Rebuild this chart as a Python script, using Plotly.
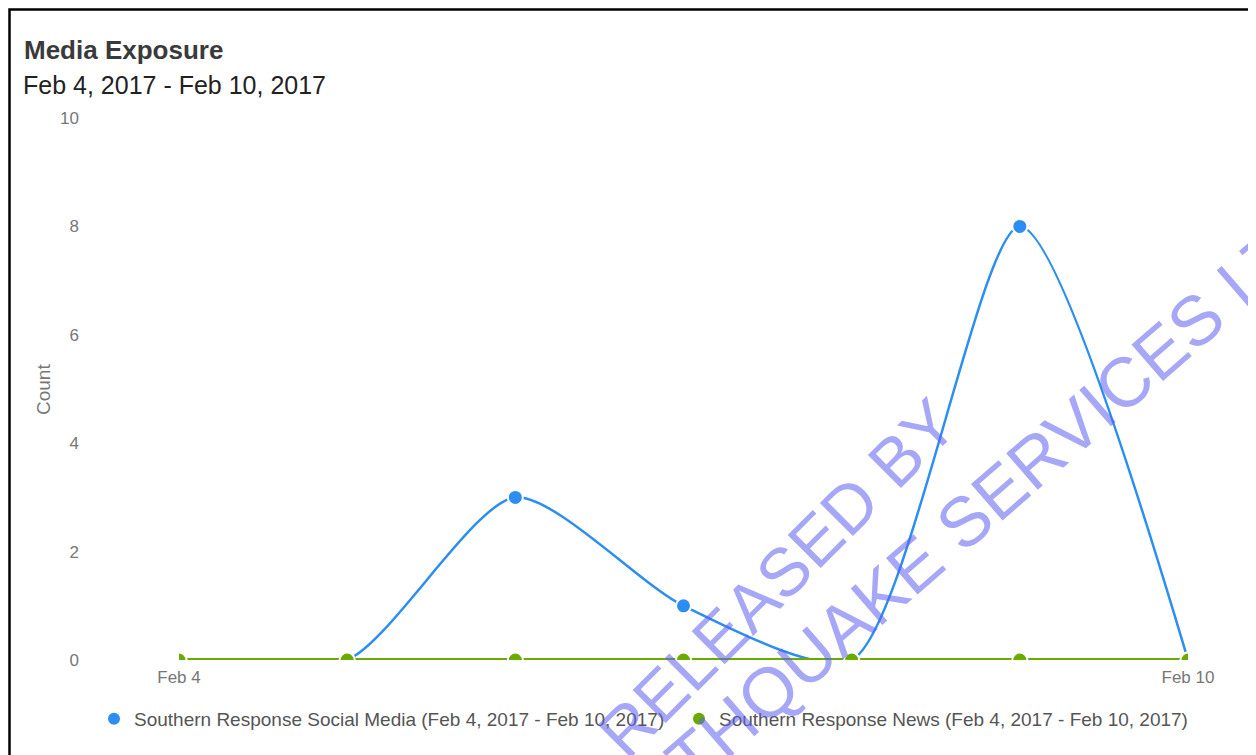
import plotly.graph_objects as go

# data
dates = ["2017-02-04", "2017-02-05", "2017-02-06", "2017-02-07",
         "2017-02-08", "2017-02-09", "2017-02-10"]
social_media = [0, 0, 3, 1, 0, 8, 0]
news = [0, 0, 0, 0, 0, 0, 0]
series_names = ["Southern Response Social Media (Feb 4, 2017 - Feb 10, 2017)",
                "Southern Response News (Feb 4, 2017 - Feb 10, 2017)"]
y_ticks = [0, 2, 4, 6, 8, 10]
x_ticks = ["2017-02-04", "2017-02-10"]
x_tick_labels = ["Feb 4", "Feb 10"]

W, H = 1256, 755
OFF = 8  # page body margin
L, R, T, B = 179, 1188, 118, 660  # plot area in screenshot pixels


def px(x):
    return (x - L) / (R - L)


def py(y):
    return (B - y) / (B - T)


blue = "#2b8ef0"
green = "#6aab00"
font = "Liberation Sans, Arial, sans-serif"

fig = go.Figure()

fig.add_trace(go.Scatter(
    x=dates, y=social_media, mode="lines+markers", name=series_names[0],
    showlegend=False,
    line=dict(color=blue, width=2.5, shape="spline", smoothing=0.7),
    marker=dict(size=15, color=blue, line=dict(color="white", width=2)),
))
fig.add_trace(go.Scatter(
    x=dates, y=news, mode="lines+markers", name=series_names[1],
    showlegend=False,
    line=dict(color=green, width=4, shape="spline"),
    marker=dict(size=15, color=green, line=dict(color="white", width=2)),
))
# legend entries show the marker only
for name, col in zip(series_names, [blue, green]):
    fig.add_trace(go.Scatter(x=[None], y=[None], mode="markers", name=name,
                             marker=dict(size=12, color=col)))

# title / subtitle
fig.add_annotation(text="<b>Media Exposure</b>", xref="paper", yref="paper",
                   x=px(22), y=py(50), xanchor="left", yanchor="middle",
                   showarrow=False, font=dict(size=26, color="#3a3a3a", family=font))
fig.add_annotation(text="Feb 4, 2017 - Feb 10, 2017", xref="paper", yref="paper",
                   x=px(21), y=py(85), xanchor="left", yanchor="middle",
                   showarrow=False, font=dict(size=25, color="#222222", family=font))
fig.add_annotation(text="Count", xref="paper", yref="paper", textangle=-90,
                   x=px(43), y=py(390), xanchor="center", yanchor="middle",
                   showarrow=False, font=dict(size=19, color="#777777", family=font))

# watermark
wm = dict(xref="paper", yref="paper", showarrow=False, xanchor="center",
          yanchor="middle")
fig.add_annotation(text="RELEASED BY", x=px(777), y=py(578), textangle=-45,
                   font=dict(size=68, color="rgba(95,95,240,0.55)", family=font), **wm)
fig.add_annotation(text="EARTHQUAKE SERVICES LTD", x=px(947), y=py(537),
                   textangle=-41,
                   font=dict(size=70, color="rgba(95,95,240,0.55)", family=font), **wm)

# image border
fig.add_shape(type="rect", xref="paper", yref="paper",
              x0=px(9.5), x1=px(1251), y0=py(9.5), y1=py(775),
              line=dict(color="black", width=2.5), fillcolor="rgba(0,0,0,0)")

fig.update_layout(
    width=W, height=H,
    margin=dict(l=L - OFF, r=W - (R - OFF), t=T - OFF, b=H - (B - OFF)),
    paper_bgcolor="white", plot_bgcolor="white",
    font=dict(family=font, color="#666666"),
    showlegend=True,
    legend=dict(orientation="h", x=px(94), y=py(719), xanchor="left",
                yanchor="middle", font=dict(size=19, color="#555555"),
                itemwidth=30, entrywidth=540, tracegroupgap=0),
    xaxis=dict(range=["2017-02-04", "2017-02-10"], tickvals=x_ticks,
               ticktext=x_tick_labels, showgrid=False, zeroline=False,
               showline=False, tickfont=dict(size=17, color="#777777"),
               ticks="", ticklabelstandoff=5),
    yaxis=dict(range=[0, 10], tickvals=y_ticks, showgrid=False, zeroline=False,
               showline=False, tickfont=dict(size=17, color="#777777"),
               ticklabelstandoff=99),
)

fig.write_html("out.html")
